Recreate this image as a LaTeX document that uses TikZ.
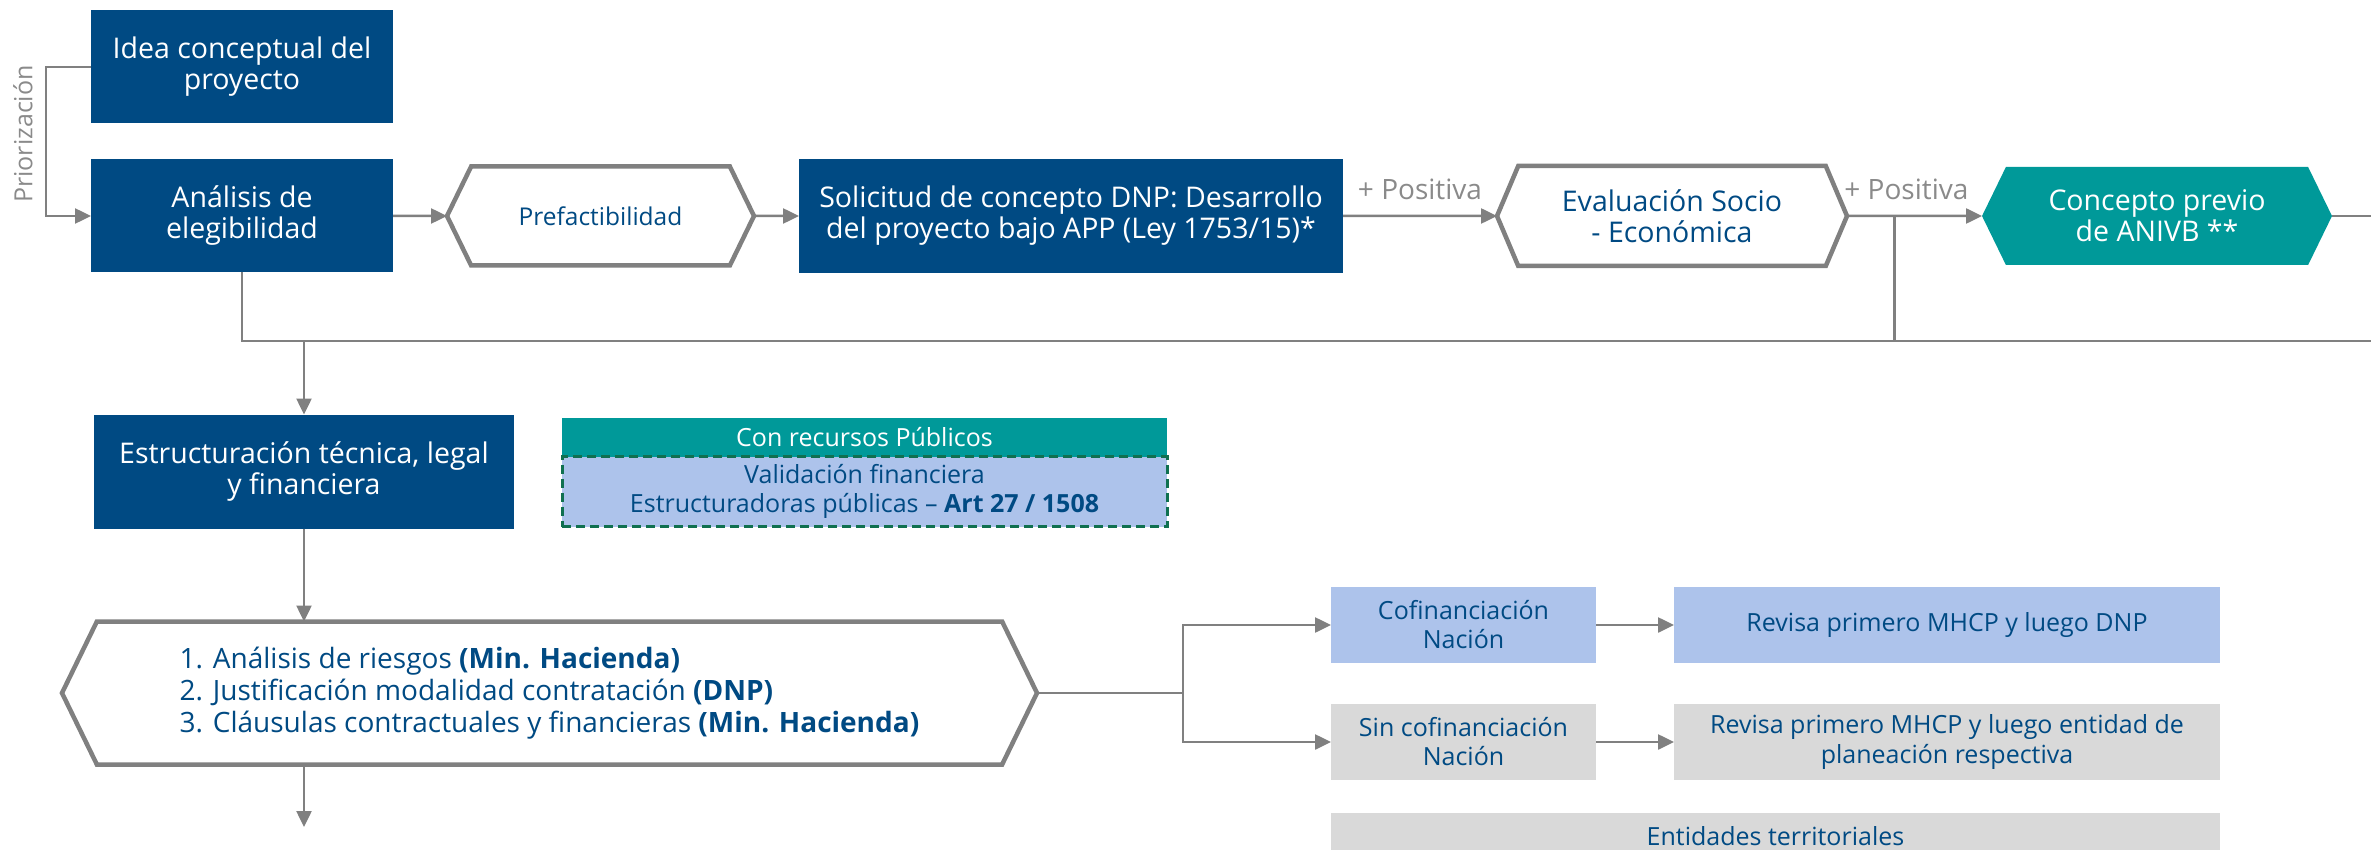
\documentclass[tikz,border=0pt]{standalone}
\usepackage{fontspec}
\setmainfont{Open Sans}
\usepackage{tikz}
\usetikzlibrary{positioning,shapes.symbols,arrows.meta,calc}

\definecolor{dblue}{RGB}{0,74,131}
\definecolor{anteal}{RGB}{0,153,153}
\definecolor{lblue}{RGB}{173,195,235}
\definecolor{lgray}{RGB}{217,217,217}
\definecolor{linegray}{RGB}{128,128,128}
\definecolor{txtgray}{RGB}{138,138,138}
\definecolor{dgreen}{RGB}{16,112,80}

\begin{document}
\begin{tikzpicture}[x=1pt, y=1pt,
    box/.style={rectangle, fill=dblue, text=white, align=center, outer sep=0pt, font=\fontsize{28.5}{31}\selectfont},
    hexa/.style={signal, signal to=west and east, signal pointer angle=128, draw=linegray, line width=4.5pt, fill=white, text=dblue, align=center, outer sep=0pt, font=\fontsize{28.5}{31}\selectfont},
    lbox/.style={rectangle, fill=lblue, text=dblue, align=center, outer sep=0pt, font=\fontsize{25}{29}\selectfont},
    gbox/.style={lbox, fill=lgray},
    line/.style={draw=linegray, line width=2.5pt},
    arr/.style={line, -{Triangle[length=16pt,width=15pt]}},
    lbl/.style={text=txtgray, font=\fontsize{28}{30}\selectfont}]
    \useasboundingbox (0,0) rectangle (2371,-850);

    \node[box, minimum width=302pt, minimum height=113pt] (idea) at (242,-67) {Idea conceptual del\\ proyecto};
    \node[box, minimum width=302pt, minimum height=113pt, below=36pt of idea] (ana) {Análisis de\\ elegibilidad};
    \node[hexa, minimum width=307pt, minimum height=99pt, right=54pt of ana, font=\fontsize{24.5}{28}\selectfont] (pref) {Prefactibilidad};
    \node[box, minimum width=544pt, minimum height=114pt, right=45pt of pref] (sol) {Solicitud de concepto DNP: Desarrollo\\ del proyecto bajo APP (Ley 1753/15)*};
    \node[hexa, minimum width=350pt, minimum height=100pt, signal pointer angle=134, right=154pt of sol] (eval) {Evaluación Socio\\ - Económica};
    \node[hexa, minimum width=350pt, minimum height=98pt, right=135pt of eval, draw=none, fill=anteal, text=white] (conc) {Concepto previo\\ de ANIVB **};

    \node[box, minimum width=420pt, minimum height=114pt, below=142pt of ana, xshift=62pt] (estr) {Estructuración técnica, legal\\ y financiera};
    \node[lbox, fill=anteal, text=white, minimum width=605pt, minimum height=39pt, right=48pt of estr.north east, anchor=north west, yshift=-3pt] (conrec) {Con recursos Públicos};
    \node[lbox, minimum width=605pt, minimum height=70pt, below=0pt of conrec, draw=dgreen, line width=3pt, dash pattern=on 9pt off 5pt, font=\fontsize{25}{28.5}\selectfont] (valid) {Validación financiera\\ Estructuradoras públicas -- \textbf{Art 27 / 1508}};

    \node[hexa, minimum width=975pt, minimum height=143pt, below=93pt of estr, xshift=245.5pt, align=left, font=\fontsize{28}{32}\selectfont] (list) {1. Análisis de riesgos \textbf{(Min. Hacienda)}\\ 2. Justificación modalidad contratación \textbf{(DNP)}\\ 3. Cláusulas contractuales y financieras \textbf{(Min. Hacienda)}};

    \node[lbox, minimum width=265pt, minimum height=76pt, right=294pt of list, yshift=68pt] (cof) {Cofinanciación\\ Nación};
    \node[gbox, minimum width=265pt, minimum height=76pt, below=41pt of cof] (sincof) {Sin cofinanciación\\ Nación};
    \node[lbox, minimum width=546pt, minimum height=76pt, right=78pt of cof] (revdnp) {Revisa primero MHCP y luego DNP};
    \node[gbox, minimum width=546pt, minimum height=76pt, right=78pt of sincof] (revent) {Revisa primero MHCP y luego entidad de\\ planeación respectiva};
    \node[gbox, minimum width=889pt, minimum height=46pt, below=33pt of sincof.south west, anchor=north west] (entid) {Entidades territoriales};

    \coordinate (rimTop) at (2371,-216);
    \coordinate (rimBus) at (2371,-341);
    \coordinate (j1) at ($(eval.east)!0.35!(conc.west)$);
    \coordinate (listOut) at (304,-827);

    \draw[arr] (idea.west) -- ++(-45,0) coordinate (pk) |- (ana.west);
    \node[lbl, rotate=90, font=\fontsize{25}{28}\selectfont] (prio) at (23,-134) {Priorización};
    \draw[arr] (ana) -- (pref);
    \draw[arr] (pref) -- (sol);
    \draw[arr] (sol) -- node[lbl, above=12pt] (pos1) {+ Positiva} (eval);
    \draw[arr] (eval) -- node[lbl, above=12pt, pos=0.44] (pos2) {+ Positiva} (conc);
    \draw[line] (conc.east) -- (rimTop);
    \draw[line] (j1) -- (j1 |- rimBus);
    \draw[line] (ana.south) |- (rimBus);
    \draw[arr] (estr.north |- rimBus) -- (estr.north);
    \draw[arr] (estr.south) -- (estr.south |- list.north);
    \draw[arr] (estr.south |- list.south) -- (listOut);
    \draw[line] (list.east) -- ++(146,0) coordinate (fork);
    \draw[arr] (fork) |- (cof.west);
    \draw[arr] (fork) |- (sincof.west);
    \draw[arr] (cof) -- (revdnp);
    \draw[arr] (sincof) -- (revent);
\end{tikzpicture}
\end{document}
